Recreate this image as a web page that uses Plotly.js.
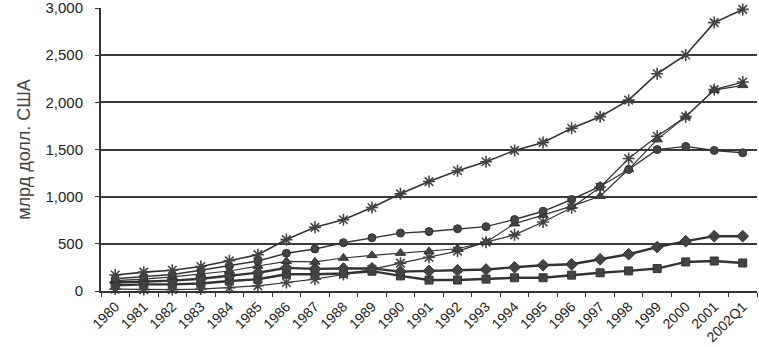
<!DOCTYPE html>
<html>
<head>
<meta charset="utf-8">
<script src="https://cdn.plot.ly/plotly-3.0.1.min.js"></script>
<style>html,body{margin:0;padding:0;background:#fff;}#chart{width:759px;height:347px;}</style>
</head>
<body>
<div id="chart"></div>
<script>
const years = ["1980","1981","1982","1983","1984","1985","1986","1987","1988","1989","1990","1991","1992","1993","1994","1995","1996","1997","1998","1999","2000","2001","2002Q1"];

const seriesStarTop = [170,200,220,260,320,385,545,675,755,885,1030,1160,1275,1370,1490,1575,1725,1848,2023,2303,2502,2845,2985];
const seriesCircle  = [130,150,175,220,265,318,400,445,512,565,614,630,660,682,758,845,970,1108,1288,1499,1533,1490,1465];
const seriesTriangle= [110,125,150,180,212,265,315,308,350,378,402,420,448,518,714,805,900,1005,1290,1605,1848,2130,2180];
const seriesStarLow = [20,15,15,20,35,55,90,125,175,230,295,357,423,518,595,732,882,1100,1404,1640,1848,2135,2215];
const seriesDiamond = [90,100,110,130,159,194,245,235,238,240,205,213,220,228,252,273,283,336,390,465,528,581,581];
const seriesSquare  = [60,70,70,80,106,124,177,177,186,210,160,116,116,126,140,140,168,193,213,238,308,318,297];

const yTickVals = [0,500,1000,1500,2000,2500,3000];

const ink = '#333333';
function tr(y, sym, size, lw, mlw) {
  return {
    x: years, y: y, type: 'scatter', mode: 'lines+markers',
    line: {color: ink, width: lw},
    marker: {symbol: sym, size: size, color: '#444', line: {color: ink, width: mlw}},
    showlegend: false, cliponaxis: false
  };
}
const data = [
  tr(seriesSquare, 'square', 8, 2.4, 1),
  tr(seriesDiamond, 'diamond', 9, 2.4, 1),
  tr(seriesStarLow, 'asterisk-open', 10, 1.2, 1.6),
  tr(seriesTriangle, 'triangle-up', 9, 1.2, 1),
  tr(seriesCircle, 'circle', 8, 1.4, 1),
  tr(seriesStarTop, 'asterisk-open', 10, 1.6, 1.6)
];
const layout = {
  width: 759, height: 347,
  margin: {l: 101, r: 2, t: 8, b: 56},
  paper_bgcolor: '#fff', plot_bgcolor: '#fff',
  font: {family: 'Liberation Sans, Arial, sans-serif', color: '#222'},
  xaxis: {
    type: 'category', tickangle: -45,
    tickfont: {size: 14, color: '#222'},
    showgrid: false, showline: true, linecolor: ink, linewidth: 2,
    ticks: 'outside', ticklen: 4, tickcolor: ink, tickson: 'boundaries',
    range: [-0.5, 22.5], ticklabeloverflow: 'allow'
  },
  yaxis: {
    range: [0, 3000], tickvals: yTickVals, tickformat: ',',
    tickfont: {size: 15, color: '#222'},
    showgrid: true, gridcolor: '#3a3a3a', gridwidth: 2,
    showline: true, linecolor: ink, linewidth: 2,
    zeroline: false,
    ticks: 'outside', ticklen: 4, tickcolor: ink,
    ticklabelstandoff: 9, ticklabeloverflow: 'allow',
    title: {text: 'млрд долл. США', font: {size: 18, color: '#444'}, standoff: 10}
  }
};
Plotly.newPlot('chart', data, layout, {staticPlot: true});
</script>
</body>
</html>
